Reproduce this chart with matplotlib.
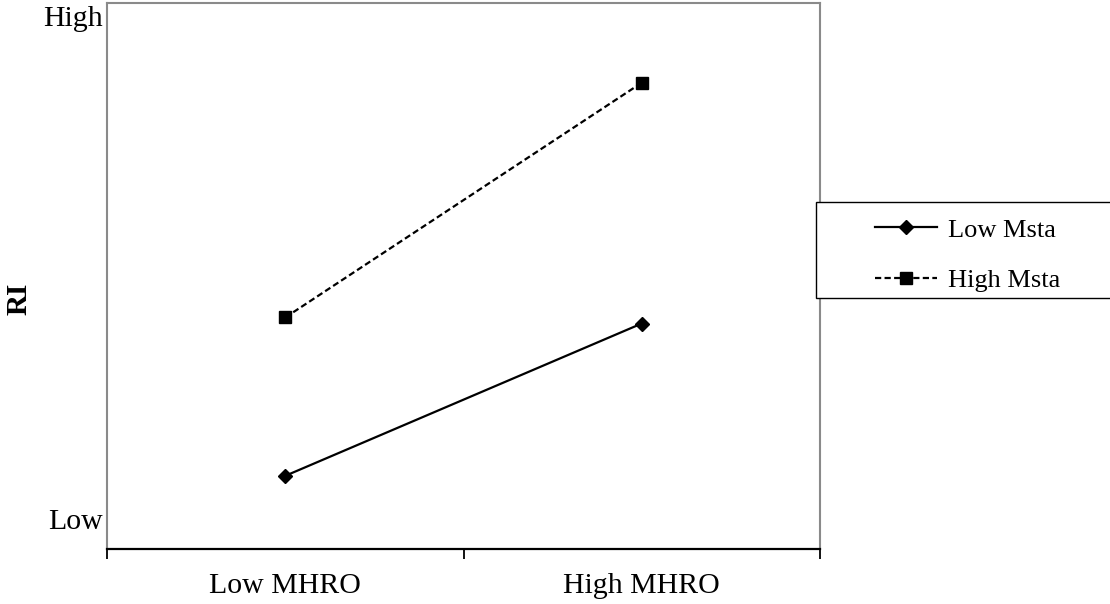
import matplotlib
matplotlib.use("Agg")
import matplotlib.pyplot as plt
from matplotlib.patches import Rectangle

categories = ["Low MHRO", "High MHRO"]
low_msta = [1.34, 4.13]
high_msta = [4.24, 8.54]
y_tick_labels = ["Low", "High"]
y_tick_values = [0.55, 9.76]
series_names = ["Low Msta", "High Msta"]

plt.rcParams['font.family'] = ['Liberation Serif', 'DejaVu Serif']

fig = plt.figure(figsize=(11.1, 6.04), dpi=100)
ax = fig.add_axes([107/1110, 55/604, 713/1110, 546/604])

xpos = [i + 0.5 for i in range(len(categories))]
l1, = ax.plot(xpos, low_msta, color='black', lw=1.6, marker='D', markersize=7,
              label=series_names[0], zorder=3)
l2, = ax.plot(xpos, high_msta, color='black', lw=1.6, ls=(0, (2.8, 1.5)), marker='s',
              markersize=9, label=series_names[1], zorder=3)

ax.set_xlim(0, len(categories))
ax.set_ylim(0, 10)

# major ticks = category boundaries, minor = labels
ax.set_xticks(range(len(categories) + 1))
ax.set_xticklabels([])
ax.set_xticks(xpos, minor=True)
ax.set_xticklabels(categories, minor=True, fontsize=21.5)
ax.tick_params(axis='x', which='minor', length=0, pad=17.5)
ax.tick_params(axis='x', which='major', length=7, width=1.3, direction='out')
ticks = ax.xaxis.get_major_ticks()
for i, t in enumerate(ticks):
    c = 'black' if 0 < i < len(ticks) - 1 else '#8a8a8a'
    t.tick1line.set_color(c)

ax.set_yticks(y_tick_values)
ax.set_yticklabels(y_tick_labels, fontsize=21.5)
ax.tick_params(axis='y', length=0, pad=3)

for s in ['left', 'top', 'right']:
    ax.spines[s].set_color('#8a8a8a')
    ax.spines[s].set_linewidth(1.5)
ax.spines['bottom'].set_color('black')
ax.spines['bottom'].set_linewidth(1.6)

fig.text(19/1110, (604-299)/604, "RI", rotation=90, ha='center', va='center',
         fontsize=21, fontweight='bold')

# legend frame (extends past figure's right edge)
rect = Rectangle((816/1110, (604-298)/604), 320/1110, 96/604, transform=fig.transFigure,
                 facecolor='white', edgecolor='black', lw=1.0, zorder=4)
fig.patches.append(rect)
leg = fig.legend(handles=[l1, l2], loc='center left',
                 bbox_to_anchor=(862/1110, (604-255)/604),
                 frameon=False, fontsize=19, handlelength=2.35, handletextpad=0.4,
                 labelspacing=1.02, borderpad=0.0)
leg.set_zorder(5)

fig.savefig("out.png", dpi=100)
